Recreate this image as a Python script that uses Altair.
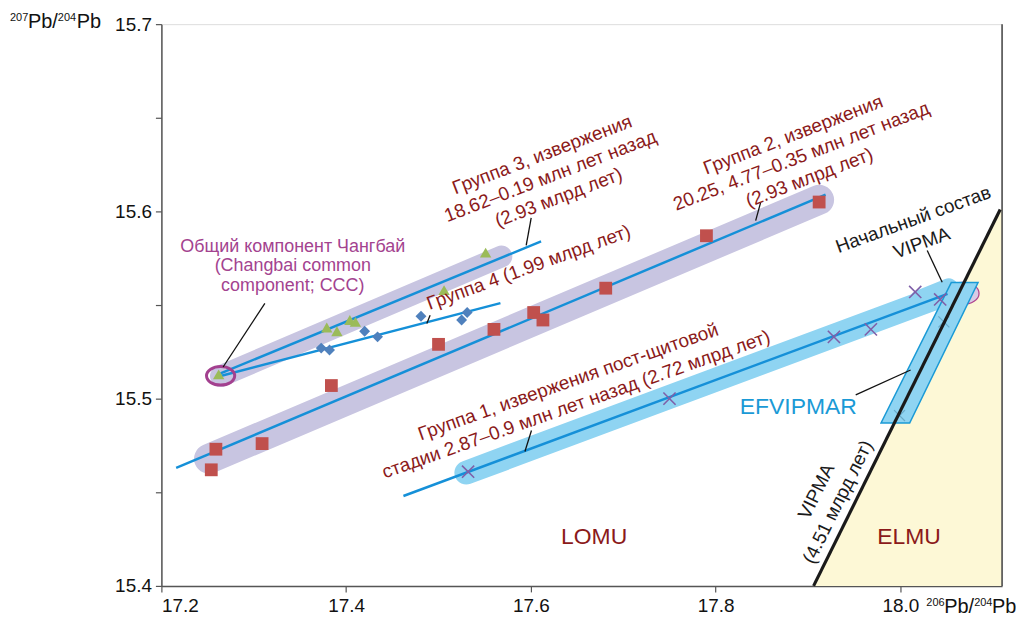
import altair as alt
import pandas as pd

FONT = "Liberation Sans"
DARKRED = "#8b1a1a"

# ---------------- axes ----------------
x_ticks = [17.2, 17.4, 17.6, 17.8, 18.0]
y_ticks = [15.4, 15.45, 15.5, 15.55, 15.6, 15.65, 15.7]
x_domain = [17.2, 18.11]
y_domain = [15.4, 15.7]

# ---------------- samples ----------------
# Group 3 (triangles), first point = Changbai common component
g3_x = [17.262, 17.379, 17.390, 17.404, 17.410, 17.506, 17.551]
g3_y = [15.513, 15.538, 15.536, 15.542, 15.541, 15.558, 15.578]
# Group 4 (diamonds)
g4_x = [17.373, 17.382, 17.420, 17.434, 17.481, 17.525, 17.531]
g4_y = [15.527, 15.526, 15.536, 15.533, 15.544, 15.542, 15.546]
# Group 2 (squares)
g2_x = [17.254, 17.259, 17.309, 17.384, 17.500, 17.560, 17.603, 17.613, 17.681, 17.790, 17.912]
g2_y = [15.462, 15.473, 15.476, 15.507, 15.529, 15.537, 15.546, 15.542, 15.559, 15.587, 15.605]
# Group 1 (crosses)
g1_x = [17.532, 17.750, 17.928, 17.968, 18.016, 18.043]
g1_y = [15.461, 15.500, 15.533, 15.537, 15.557, 15.553]
# faint crosses inside EFVIPMAR
ef_pts_x = [18.047, 17.999]
ef_pts_y = [15.541, 15.491]

# ---------------- regression lines: group 3, 4, 2, 1 ----------------
fit_x0 = [17.264, 17.264, 17.216, 17.462]
fit_y0 = [15.5135, 15.5121, 15.463, 15.448]
fit_x1 = [17.611, 17.567, 17.919, 18.051]
fit_y1 = [15.584, 15.551, 15.609, 15.556]

# ---------------- envelopes ----------------
band2_x = [17.2515, 17.912]
band2_y = [15.4679, 15.6062]
band3_x = [17.2645, 17.568]
band3_y = [15.5121, 15.5759]
band1_x = [17.5301, 18.0398]
band1_y = [15.4605, 15.5541]
band1b_x = [18.0202, 18.0524]
band1b_y = [15.5525, 15.5589]

# ---------------- geochron VIPMA / ELMU field ----------------
vipma_x = [17.906, 18.108]
vipma_y = [15.400, 15.601]
elmu_x = [17.906, 18.108, 18.11]
elmu_top = [15.400, 15.601, 15.601]
edge_x = [18.11]
edge_y = [15.4, 15.7]

# ---------------- EFVIPMAR parallelogram ----------------
ef_y = [15.487, 15.562]
ef_xl = [17.979, 18.055]
ef_xr = [18.010, 18.084]

# ---------------- end-member compositions ----------------
ccc_x = [17.2641]
ccc_y = [15.5122]
vipma0_x = [18.0668]
vipma0_y = [15.5562]

# ---------------- leader lines ----------------
lead_x0 = [17.312, 17.6003, 17.4909, 17.8487, 17.6006, 18.029, 17.9516]
lead_y0 = [15.5509, 15.5966, 15.5445, 15.6048, 15.483, 15.5791, 15.502]
lead_x1 = [17.2668, 17.5949, 17.4873, 17.8433, 17.5935, 18.0452, 18.011]
lead_y1 = [15.5169, 15.5818, 15.5401, 15.5951, 15.4718, 15.5622, 15.5153]

# ---------------- labels (anchor = centre of first line) ----------------
lbl_ccc = "Общий компонент Чангбай\n(Changbai common\ncomponent; CCC)"
lbl_g3 = "Группа 3, извержения\n18.62–0.19 млн лет назад\n(2.93 млрд лет)"
lbl_g2 = "Группа 2, извержения\n20.25, 4.77–0.35 млн лет назад\n(2.93 млрд лет)"
lbl_g4 = "Группа 4 (1.99 млрд лет)"
lbl_g1 = "Группа 1, извержения пост-щитовой\nстадии 2.87–0.9 млн лет назад (2.72 млрд лет)"
lbl_v0 = "Начальный состав\nVIPMA"
lbl_ef = "EFVIPMAR"
lbl_vipma = "VIPMA\n(4.51 млрд лет)"
lbl_lomu = "LOMU"
lbl_elmu = "ELMU"
lbl_pos_x = [17.3422, 17.6122, 17.8838, 17.5976, 17.6403, 18.0139, 17.8895, 17.9091, 17.6684, 18.0093]
lbl_pos_y = [15.5810, 15.6302, 15.6408, 15.5700, 15.5089, 15.5956, 15.4957, 15.4504, 15.4259, 15.4262]

# axis titles (pieces: superscript mass number + element)
ytitle_parts = ["207", "Pb/", "204", "Pb"]
xtitle_parts = ["206", "Pb/", "204", "Pb"]

# ================= chart building =================
xs = alt.Scale(domain=x_domain, nice=False, zero=False)
ys = alt.Scale(domain=y_domain, nice=False, zero=False)

x_axis = alt.Axis(
    values=x_ticks, format=".1f", grid=False, title=None,
    labelFont=FONT, labelFontSize=19, labelColor="#111", labelPadding=5,
    tickSize=6, tickColor="#555", domainColor="#555", domainWidth=1.5, tickWidth=1.2,
)
y_axis = alt.Axis(
    values=y_ticks, grid=False, title=None,
    labelExpr="abs(datum.value*10 - round(datum.value*10)) < 0.001 ? format(datum.value, '.1f') : ''",
    labelFont=FONT, labelFontSize=19, labelColor="#111", labelPadding=4,
    tickSize=6, tickColor="#555", domainColor="#555", domainWidth=1.5, tickWidth=1.2,
)


def X(f):
    return alt.X(f, type="quantitative", scale=xs, axis=x_axis)


def Y(f):
    return alt.Y(f, type="quantitative", scale=ys, axis=y_axis)


def seg(x0, y0, x1, y1, **mk):
    df = pd.DataFrame({"x0": x0, "y0": y0, "x1": x1, "y1": y1})
    return alt.Chart(df).mark_rule(**mk).encode(x=X("x0"), y=Y("y0"), x2="x1:Q", y2="y1:Q")


def pts(xv, yv, **mk):
    df = pd.DataFrame({"x": xv, "y": yv})
    return alt.Chart(df).mark_point(**mk).encode(x=X("x"), y=Y("y"))


def txt(label, i, angle, color, size, lh=22):
    df = pd.DataFrame({"x": [lbl_pos_x[i]], "y": [lbl_pos_y[i]], "t": [label]})
    return alt.Chart(df).mark_text(
        angle=angle % 360, color=color, fontSize=size, font=FONT, align="center",
        baseline="middle", lineBreak="\n", lineHeight=lh,
    ).encode(x=X("x"), y=Y("y"), text="t:N")


def title_piece(label, xv, yv, dx, dy, size):
    df = pd.DataFrame({"x": [xv], "y": [yv], "t": [label]})
    return alt.Chart(df).mark_text(
        color="#111", fontSize=size, font=FONT, align="left", baseline="alphabetic",
        dx=dx, dy=dy,
    ).encode(x=X("x"), y=Y("y"), text="t:N")


LAV = "#c8c5e1"
LBLUE = "#8fd4f2"
FITC = "#1590d8"

layers = []

# ELMU field
elmu_df = pd.DataFrame({"x": elmu_x, "top": elmu_top, "base": [y_domain[0]] * len(elmu_x)})
layers.append(alt.Chart(elmu_df).mark_area(color="#fdf8d6").encode(x=X("x"), y=Y("top"), y2="base:Q"))
# right border
layers.append(seg(edge_x, [edge_y[0]], edge_x, [edge_y[1]], color="#444", strokeWidth=1.5))

# initial VIPMA blob
ELL = "M-1,0A1,0.66,0,1,1,1,0A1,0.66,0,1,1,-1,0Z"
layers.append(pts(vipma0_x, vipma0_y, shape=ELL, size=1150, filled=True, fill="#d8cbe4",
                  stroke="#b0458f", strokeWidth=1.3, opacity=1))

# envelopes
layers.append(seg([band2_x[0]], [band2_y[0]], [band2_x[1]], [band2_y[1]], color=LAV, strokeWidth=30, strokeCap="round"))
layers.append(seg([band3_x[0]], [band3_y[0]], [band3_x[1]], [band3_y[1]], color=LAV, strokeWidth=22, strokeCap="round"))
layers.append(seg([band1_x[0]], [band1_y[0]], [band1_x[1]], [band1_y[1]], color=LBLUE, strokeWidth=24, strokeCap="round"))
layers.append(seg([band1b_x[0]], [band1b_y[0]], [band1b_x[1]], [band1b_y[1]], color=LBLUE, strokeWidth=20, strokeCap="round"))

# EFVIPMAR parallelogram
ef_df = pd.DataFrame({"y": ef_y, "xl": ef_xl, "xr": ef_xr})
layers.append(alt.Chart(ef_df).mark_area(orient="horizontal", fill=LBLUE, stroke="#1a9ad6",
                                         strokeWidth=1.5, fillOpacity=1).encode(
    y=Y("y"), x=X("xl"), x2="xr:Q"))
layers.append(pts(ef_pts_x, ef_pts_y, shape="M-1,-1L1,1M-1,1L1,-1", size=120, filled=False,
                  color="#4f90b0", strokeWidth=1.2, opacity=0.6))

# geochron
layers.append(seg([vipma_x[0]], [vipma_y[0]], [vipma_x[1]], [vipma_y[1]], color="#1a1a1a", strokeWidth=3.2))

# regression lines
layers.append(seg(fit_x0, fit_y0, fit_x1, fit_y1, color=FITC, strokeWidth=2.5))

# CCC ring
layers.append(pts(ccc_x, ccc_y, shape=ELL, size=800, filled=False, color="#a3408f", strokeWidth=3, opacity=1))

# samples
layers.append(pts(g2_x, g2_y, shape="square", size=165, filled=True, color="#c0504d", opacity=1))
layers.append(pts(g4_x, g4_y, shape="diamond", size=120, filled=True, color="#4f81bd", opacity=1))
layers.append(pts(g3_x, g3_y, shape="triangle-up", size=130, filled=True, color="#9bbb59", opacity=1))
layers.append(pts(g1_x, g1_y, shape="M-1,-1L1,1M-1,1L1,-1", size=150, filled=False,
                  color="#7f5fa8", strokeWidth=1.6, opacity=1))

# leader lines
layers.append(seg(lead_x0, lead_y0, lead_x1, lead_y1, color="#111", strokeWidth=1.3))

# labels
layers.append(txt(lbl_ccc, 0, 0, "#a3438f", 18, 19.5))
layers.append(txt(lbl_g3, 1, -21, DARKRED, 19, 23))
layers.append(txt(lbl_g2, 2, -21, DARKRED, 19, 23))
layers.append(txt(lbl_g4, 3, -20, DARKRED, 19))
layers.append(txt(lbl_g1, 4, -19.5, DARKRED, 19, 24))
layers.append(txt(lbl_v0, 5, -20, "#1a1a1a", 19, 25))
layers.append(txt(lbl_ef, 6, 0, "#1a9ad6", 23))
layers.append(txt(lbl_vipma, 7, -63.7, "#1a1a1a", 19, 24))
layers.append(txt(lbl_lomu, 8, 0, DARKRED, 23))
layers.append(txt(lbl_elmu, 9, 0, DARKRED, 23))

# axis titles: y at top-left of the axis, x to the right of the last tick label
y_off = [(-152, -3, 11), (-134, 4, 20), (-104, -3, 11), (-85, 4, 20)]
for part, (dx, dy, sz) in zip(ytitle_parts, y_off):
    layers.append(title_piece(part, x_domain[0], y_domain[1], dx, dy, sz))
x_off = [(26, 20, 11), (44, 27, 20), (74, 20, 11), (92, 27, 20)]
for part, (dx, dy, sz) in zip(xtitle_parts, x_off):
    layers.append(title_piece(part, x_ticks[-1], y_domain[0], dx, dy, sz))

chart = alt.layer(*layers).properties(
    width=844, height=564,
    autosize=alt.AutoSizeParams(type="none"),
    padding={"left": 154, "top": 15, "right": 14, "bottom": 30},
).configure_view(stroke=None).configure(background="white")

chart.save("out.html", embed_options={"renderer": "svg", "actions": False})
